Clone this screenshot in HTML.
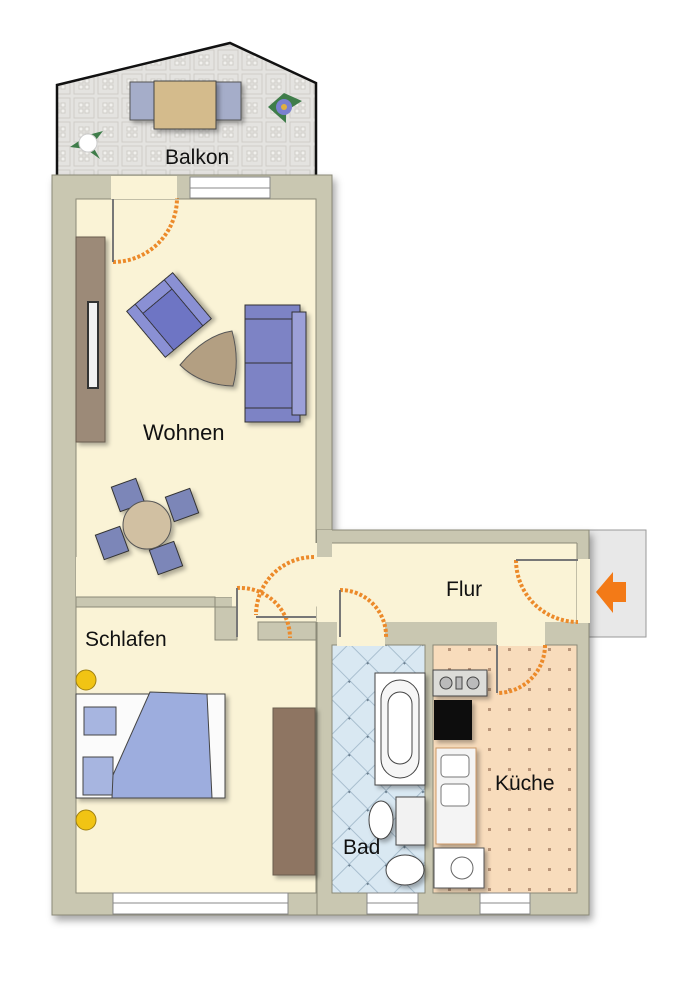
<!DOCTYPE html>
<html><head><meta charset="utf-8"><style>
html,body{margin:0;padding:0;background:#fff;}
svg{display:block;}
text{font-family:"Liberation Sans",sans-serif;fill:#111;}
</style></head><body>
<svg width="682" height="1000" viewBox="0 0 682 1000" xmlns="http://www.w3.org/2000/svg">
<defs>
<filter id="sh" x="-10%" y="-10%" width="130%" height="130%"><feDropShadow dx="3" dy="5" stdDeviation="4" flood-color="#000" flood-opacity="0.35"/></filter>
<filter id="fs" x="-20%" y="-20%" width="150%" height="150%"><feDropShadow dx="3" dy="3" stdDeviation="2" flood-color="#000" flood-opacity="0.3"/></filter>
<pattern id="tile" width="24" height="24" patternUnits="userSpaceOnUse">
<rect width="24" height="24" fill="#e4e3e0"/><rect x="2" y="2" width="20" height="20" fill="none" stroke="#cfcdc8"/>
<rect x="7" y="7" width="4" height="4" fill="#f2f1ee" stroke="#d0cec9"/><rect x="13" y="7" width="4" height="4" fill="#f2f1ee" stroke="#d0cec9"/><rect x="7" y="13" width="4" height="4" fill="#f2f1ee" stroke="#d0cec9"/><rect x="13" y="13" width="4" height="4" fill="#f2f1ee" stroke="#d0cec9"/></pattern>
<pattern id="bad" width="26" height="26" patternUnits="userSpaceOnUse" patternTransform="rotate(45)">
<rect width="26" height="26" fill="#d9e8f2"/><rect width="26" height="26" fill="none" stroke="#a9bfcf" stroke-width="1"/><rect x="-2" y="-2" width="4" height="4" fill="#6b7f90"/></pattern>
<pattern id="kue" width="20" height="20" patternUnits="userSpaceOnUse">
<rect width="20" height="20" fill="#f8dcbc"/><rect x="8" y="8" width="3" height="3" fill="#b89478"/></pattern>
</defs>

<!-- balcony -->
<polygon points="57,85 230,43 316,83 316,178 57,178" fill="url(#tile)" stroke="#111" stroke-width="2.5"/>
<!-- balcony furniture -->
<rect x="130" y="82" width="28" height="38" fill="#a5adc9" stroke="#555" filter="url(#fs)"/>
<rect x="213" y="82" width="28" height="38" fill="#a5adc9" stroke="#555" filter="url(#fs)"/>
<rect x="154" y="81" width="62" height="48" fill="#d4bb8c" stroke="#444" filter="url(#fs)"/>
<g transform="translate(88,143)"><path d="M-18,4 L0,-8 L15,-12 L4,2 L12,16 L-2,6 Z" fill="#3f7d4a"/><circle r="9" fill="#fff" stroke="#ccc"/></g>
<g transform="translate(284,107)"><path d="M-16,0 L0,-14 L18,-6 L2,4 L2,16 Z" fill="#3f7d4a"/><circle r="8" fill="#7a80d0"/><circle r="3" fill="#e0b040"/></g>
<text x="165" y="164" font-size="21">Balkon</text>

<!-- entrance box -->
<rect x="580" y="530" width="66" height="107" fill="#e8e8e8" stroke="#999"/>
<polygon points="596,592 613,572 613,582 626,582 626,602 613,602 613,613" fill="#f37a17"/>

<!-- walls -->
<g filter="url(#sh)">
<rect x="52" y="175" width="280" height="740" fill="#c9c7b1" stroke="#8b8a78"/>
<rect x="317" y="530" width="272" height="385" fill="#c9c7b1" stroke="#8b8a78"/>
</g>

<!-- rooms -->
<rect x="76" y="199" width="240" height="398" fill="#faf3d6" stroke="#8b8a78"/>
<rect x="232" y="543" width="345" height="79" fill="#faf3d6"/>
<rect x="76" y="557" width="240" height="40" fill="#faf3d6"/>
<rect x="317" y="530" width="15" height="27" fill="#c9c7b1"/>
<line x1="332" y1="543" x2="577" y2="543" stroke="#8b8a78"/>
<line x1="577" y1="543" x2="577" y2="622" stroke="#8b8a78"/>
<rect x="76" y="607" width="240" height="286" fill="#faf3d6" stroke="#8b8a78"/>
<rect x="232" y="597" width="84" height="25" fill="#faf3d6"/>
<!-- notch wall -->
<polygon points="76,597 215,597 215,640 237,640 237,607 76,607" fill="#c9c7b1" stroke="#8b8a78"/>
<polygon points="258,622 316,622 316,640 258,640" fill="#c9c7b1" stroke="#8b8a78"/>
<!-- bath / kitchen -->
<rect x="332" y="645" width="93" height="248" fill="url(#bad)" stroke="#8b8a78"/>
<rect x="337" y="622" width="48" height="24" fill="#faf3d6"/>
<rect x="433" y="645" width="144" height="248" fill="url(#kue)" stroke="#8b8a78"/>
<rect x="497" y="622" width="48" height="24" fill="#faf3d6"/>
<rect x="577" y="559" width="13" height="64" fill="#faf3d6"/>

<!-- windows -->
<rect x="190" y="177" width="80" height="21" fill="#fff" stroke="#888"/>
<line x1="190" y1="188" x2="270" y2="188" stroke="#888"/>
<rect x="111" y="176" width="66" height="23" fill="#faf3d6"/>
<rect x="113" y="893" width="175" height="21" fill="#fff" stroke="#888"/>
<line x1="113" y1="903" x2="288" y2="903" stroke="#888"/>
<rect x="367" y="893" width="51" height="21" fill="#fff" stroke="#888"/>
<line x1="367" y1="903" x2="418" y2="903" stroke="#888"/>
<rect x="480" y="893" width="50" height="21" fill="#fff" stroke="#888"/>
<line x1="480" y1="903" x2="530" y2="903" stroke="#888"/>

<!-- doors -->
<g fill="none" stroke="#ec8a2a" stroke-width="4" stroke-dasharray="3,2">
<path d="M113,262 A64,64 0 0 0 177,198"/>
<path d="M314,557 A58,58 0 0 0 256,615"/>
<path d="M237,588 A50,50 0 0 1 290,638"/>
<path d="M340,590 A46,46 0 0 1 386,638"/>
<path d="M516,560 A62,62 0 0 0 578,622"/>
<path d="M545,645 A48,48 0 0 1 497,693"/>
</g>
<g stroke="#777" stroke-width="2" fill="none">
<line x1="113" y1="199" x2="113" y2="262"/>
<line x1="256" y1="617" x2="316" y2="617"/>
<line x1="237" y1="588" x2="237" y2="637"/>
<line x1="340" y1="590" x2="340" y2="637"/>
<line x1="516" y1="560" x2="578" y2="560"/>
<line x1="497" y1="645" x2="497" y2="693"/>
</g>

<!-- Wohnen furniture -->
<rect x="76" y="237" width="29" height="205" fill="#9c8a78" stroke="#6b5d50" filter="url(#fs)"/>
<rect x="88" y="302" width="10" height="86" fill="#f2f2f2" stroke="#333" stroke-width="2"/>
<g transform="translate(169,315) rotate(-40)" filter="url(#fs)">
<rect x="-30" y="-30" width="60" height="60" fill="#6e75c4" stroke="#333"/>
<rect x="-30" y="-30" width="60" height="12" fill="#8a90d4" stroke="#333"/>
<rect x="-30" y="-30" width="11" height="60" fill="#8a90d4" stroke="#333"/>
<rect x="19" y="-30" width="11" height="60" fill="#8a90d4" stroke="#333"/>
</g>
<path d="M180,365 Q205,335 232,331 Q240,360 233,386 Q200,385 180,365 Z" fill="#b39f82" stroke="#555" filter="url(#fs)"/>
<g filter="url(#fs)">
<rect x="245" y="305" width="55" height="117" fill="#7d83c5" stroke="#333"/>
<rect x="292" y="312" width="14" height="103" fill="#9ca0d8" stroke="#333"/>
<line x1="245" y1="363" x2="292" y2="363" stroke="#333"/>
<line x1="245" y1="319" x2="292" y2="319" stroke="#333"/>
<line x1="245" y1="408" x2="292" y2="408" stroke="#333"/>
</g>
<text x="143" y="440" font-size="22">Wohnen</text>
<g filter="url(#fs)">
<g transform="translate(128,495) rotate(-20)"><rect x="-13" y="-13" width="26" height="26" fill="#7c86b8" stroke="#333"/></g>
<g transform="translate(182,505) rotate(70)"><rect x="-13" y="-13" width="26" height="26" fill="#7c86b8" stroke="#333"/></g>
<g transform="translate(112,543) rotate(-110)"><rect x="-13" y="-13" width="26" height="26" fill="#7c86b8" stroke="#333"/></g>
<g transform="translate(166,558) rotate(160)"><rect x="-13" y="-13" width="26" height="26" fill="#7c86b8" stroke="#333"/></g>
<circle cx="147" cy="525" r="24" fill="#d1c0a2" stroke="#555"/>
</g>

<!-- Flur -->
<text x="446" y="596" font-size="21">Flur</text>

<!-- Schlafen -->
<text x="85" y="646" font-size="21">Schlafen</text>
<circle cx="86" cy="680" r="10" fill="#f1c414" stroke="#a08010"/>
<circle cx="86" cy="820" r="10" fill="#f1c414" stroke="#a08010"/>
<g filter="url(#fs)">
<rect x="76" y="694" width="149" height="104" fill="#fbfbfb" stroke="#444"/>
<rect x="84" y="707" width="32" height="28" fill="#a7b5e0" stroke="#444"/>
<rect x="83" y="757" width="30" height="38" fill="#a7b5e0" stroke="#444"/>
<path d="M113,775 L150,692 L207,694 L212,798 L112,798 Z" fill="#9dadde" stroke="#444"/>
</g>
<rect x="273" y="708" width="42" height="167" fill="#8e7562" stroke="#6b5d50" filter="url(#fs)"/>

<!-- Bad -->
<g filter="url(#fs)">
<rect x="375" y="673" width="50" height="112" fill="#fff" stroke="#444"/>
<rect x="381" y="680" width="38" height="98" rx="19" fill="#f6f6f6" stroke="#444"/>
<rect x="388" y="692" width="24" height="72" rx="12" fill="#fff" stroke="#444"/>
<rect x="396" y="797" width="29" height="48" fill="#f2f2f2" stroke="#444"/>
<ellipse cx="381" cy="820" rx="12" ry="19" fill="#fff" stroke="#444"/>
<ellipse cx="405" cy="870" rx="19" ry="15" fill="#fff" stroke="#444"/>
</g>
<text x="343" y="854" font-size="21">Bad</text>

<!-- Küche -->
<g filter="url(#fs)">
<rect x="433" y="670" width="54" height="26" fill="#dcdcd8" stroke="#444"/>
<circle cx="446" cy="683" r="6" fill="#bbb" stroke="#444"/><rect x="456" y="677" width="6" height="12" fill="#bbb" stroke="#444"/><circle cx="473" cy="683" r="6" fill="#bbb" stroke="#444"/>
<rect x="434" y="700" width="38" height="40" fill="#111"/>
<rect x="436" y="748" width="40" height="96" fill="#f4f4f4" stroke="#c96"/>
<rect x="441" y="755" width="28" height="22" rx="4" fill="#fff" stroke="#777"/>
<rect x="441" y="784" width="28" height="22" rx="4" fill="#fff" stroke="#777"/>
<rect x="434" y="848" width="50" height="40" fill="#fff" stroke="#555"/>
<circle cx="462" cy="868" r="11" fill="#fff" stroke="#666"/>
</g>
<text x="495" y="790" font-size="21">Küche</text>
</svg>
</body></html>
